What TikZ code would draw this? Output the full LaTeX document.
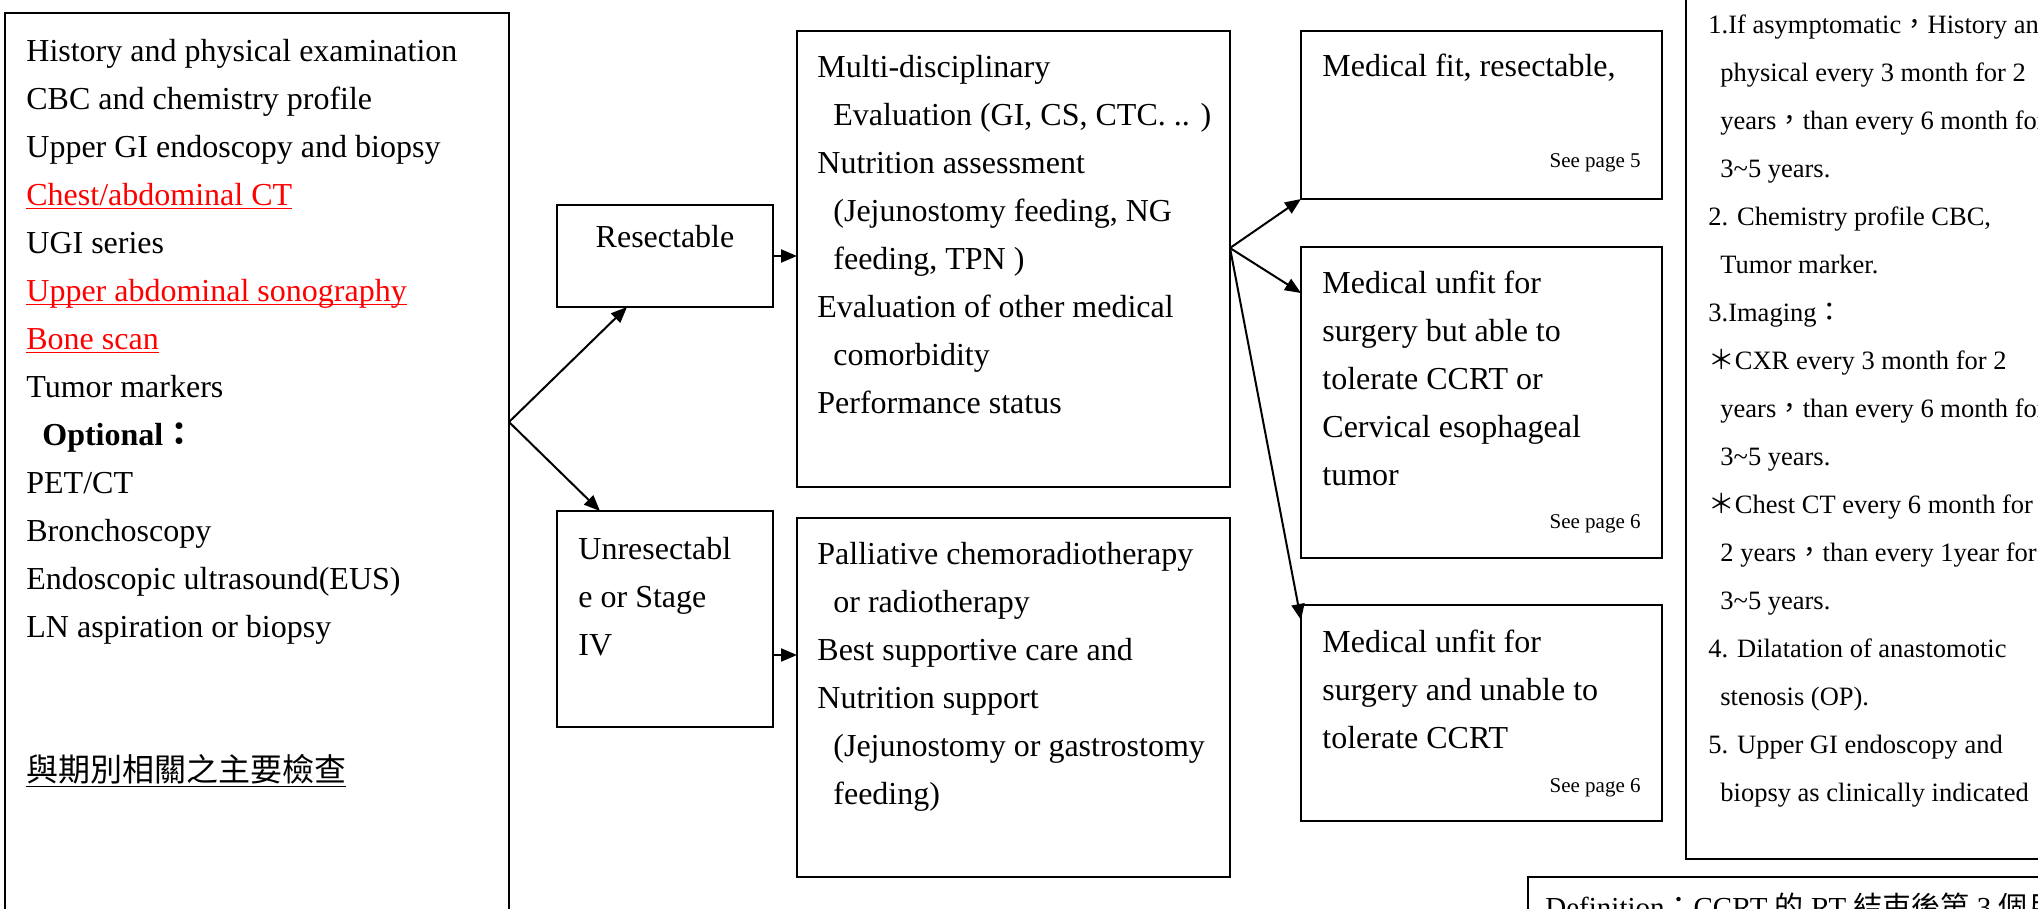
\documentclass[tikz,border=0pt]{standalone}
\usepackage{fontspec}
\setmainfont{Liberation Serif}
\newfontfamily\cjk{Noto Sans CJK TC}
\usepackage{tikz}
\usetikzlibrary{arrows.meta,positioning}
\definecolor{exred}{RGB}{255,0,0}
\newcommand{\redline}[1]{\textcolor{exred}{\underline{\smash{#1}}}}
\tikzstyle{panel} = [rectangle, draw, line width=1pt, inner sep=0pt, outer sep=0pt, anchor=north west]
\tikzstyle{lines} = [anchor=north west, inner sep=0pt, align=left, font=\fontsize{16}{24}\selectfont]
\tikzstyle{fup} = [anchor=north west, inner sep=0pt, align=left, font=\fontsize{13.25}{24}\selectfont]
\tikzstyle{pageref} = [anchor=base east, inner sep=0pt, font=\fontsize{10.5}{12}\selectfont]
\tikzstyle{arrow} = [line width=1pt, -{Triangle[length=8pt,width=6.5pt]}]

\begin{document}
\begin{tikzpicture}[x=0.5pt, y=-0.5pt]
\useasboundingbox (0,0) rectangle (2038,909);
\clip (0,0) rectangle (2038,909);

% Work-up
\node[panel, minimum width=252pt, minimum height=458.5pt] (exams) at (5,13) {};
\node[lines] (examsTxt) at (26,27.4) {\strut History and physical examination\\
CBC and chemistry profile\\
Upper GI endoscopy and biopsy\\
\redline{Chest/abdominal CT}\\
UGI series\\
\redline{Upper abdominal sonography}\\
\redline{Bone scan}\\
Tumor markers\\
\hspace*{8pt}\textbf{Optional{\cjk ：}}\\
PET/CT\\
Bronchoscopy\\
Endoscopic ultrasound(EUS)\\
LN aspiration or biopsy\\[48pt]
\underline{\cjk 與期別相關之主要檢查}};

% Resectability
\node[panel, minimum width=108pt, minimum height=51pt] (res) at (557,205) {};
\node[anchor=base, inner sep=0pt, font=\fontsize{16}{24}\selectfont] (resTxt) at (665,248) {Resectable};
\node[panel, minimum width=108pt, minimum height=108pt, below=102pt of res] (unres) {};
\node[lines] (unresTxt) at (578,525.4) {\strut Unresectabl\\e or Stage\\IV};

% Treatment planning
\node[panel, minimum width=216.5pt, minimum height=228pt] (multi) at (797,31) {};
\node[lines] (multiTxt) at (817,43.4) {\strut Multi-disciplinary\\
\hspace*{8pt}Evaluation (GI, CS, CTC. .. )\\
Nutrition assessment\\
\hspace*{8pt}(Jejunostomy feeding, NG\\
\hspace*{8pt}feeding, TPN )\\
Evaluation of other medical\\
\hspace*{8pt}comorbidity\\
Performance status};
\node[panel, minimum width=216.5pt, minimum height=179.5pt, below=15.5pt of multi] (pall) {};
\node[lines] (pallTxt) at (817,530.4) {\strut Palliative chemoradiotherapy\\
\hspace*{8pt}or radiotherapy\\
Best supportive care and\\
Nutrition support\\
\hspace*{8pt}(Jejunostomy or gastrostomy\\
\hspace*{8pt}feeding)};

% Fitness
\node[panel, minimum width=180.5pt, minimum height=84pt] (fit) at (1301,31) {};
\node[anchor=base west, inner sep=0pt, font=\fontsize{16}{24}\selectfont] (fitTxt) at (1322,77) {Medical fit, resectable,};
\node[pageref] (fitRef) at (1641,168) {See page 5};
\node[panel, minimum width=180.5pt, minimum height=155.5pt, below=24pt of fit] (unfitA) {};
\node[lines] (unfitATxt) at (1322,259.4) {\strut Medical unfit for\\
surgery but able to\\
tolerate CCRT or\\
Cervical esophageal\\
tumor};
\node[pageref] (unfitARef) at (1641,528) {See page 6};
\node[panel, minimum width=180.5pt, minimum height=108pt, below=23.5pt of unfitA] (unfitB) {};
\node[lines] (unfitBTxt) at (1322,618.4) {\strut Medical unfit for\\
surgery and unable to\\
tolerate CCRT};
\node[pageref] (unfitBRef) at (1641,792) {See page 6};

% Follow-up
\node[panel, minimum width=187pt, minimum height=434.5pt] (follow) at (1686,-10) {};
\node[fup] (followTxt) at (1708,-0.6) {\strut 1.If asymptomatic{\cjk ，}History and\\
\hspace*{6pt}physical every 3 month for 2\\
\hspace*{6pt}years{\cjk ，}than every 6 month for\\
\hspace*{6pt}3\textasciitilde 5 years.\\
2. Chemistry profile CBC,\\
\hspace*{6pt}Tumor marker.\\
3.Imaging{\cjk ：}\\
{\cjk ＊}CXR every 3 month for 2\\
\hspace*{6pt}years{\cjk ，}than every 6 month for\\
\hspace*{6pt}3\textasciitilde 5 years.\\
{\cjk ＊}Chest CT every 6 month for\\
\hspace*{6pt}2 years{\cjk ，}than every 1year for\\
\hspace*{6pt}3\textasciitilde 5 years.\\
4. Dilatation of anastomotic\\
\hspace*{6pt}stenosis (OP).\\
5. Upper GI endoscopy and\\
\hspace*{6pt}biopsy as clinically indicated};

% Definition
\node[panel, minimum width=266pt, minimum height=31.5pt] (defn) at (1528,877) {};
\node[anchor=base west, inner sep=0pt, font=\fontsize{14.5}{20}\selectfont] (defnTxt) at (1545,917) {Definition{\cjk ：}CCRT {\cjk 的} RT {\cjk 結束後第} 3 {\cjk 個月}};

% Connectors
\coordinate (split) at (509,422);
\coordinate (fork) at ([yshift=5.5pt]multi.east);
\draw[arrow] (split) -- ([xshift=-19pt]res.south);
\draw[arrow] (split) -- ([xshift=-32.5pt]unres.north);
\draw[arrow] (res.east) -- (res.east -| multi.west);
\draw[arrow] ([yshift=-18pt]unres.east) -- ([yshift=-18pt]unres.east -| pall.west);
\draw[arrow] (fork) -- (fit.south west);
\draw[arrow] (fork) -- ([yshift=-23pt]unfitA.north west);
\draw[arrow] (fork) -- ([yshift=-7.5pt]unfitB.north west);
\end{tikzpicture}
\end{document}
